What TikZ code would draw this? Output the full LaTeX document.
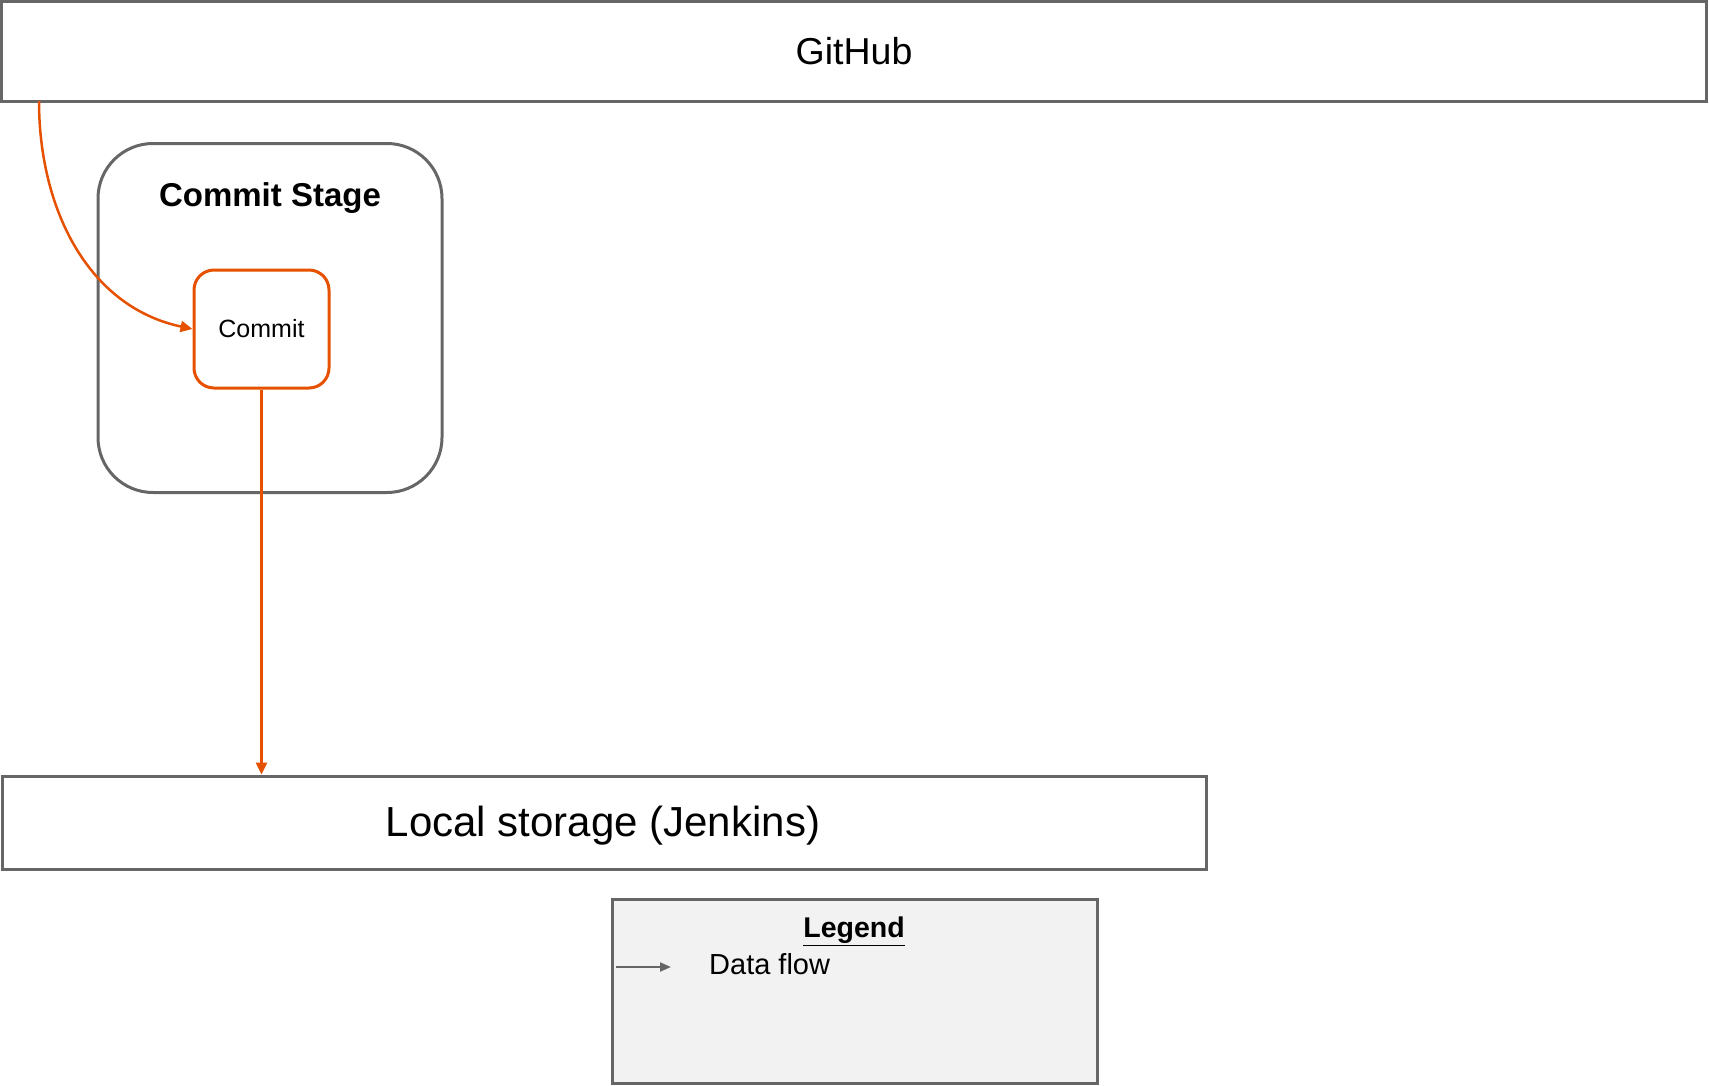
\documentclass[tikz,border=0pt]{standalone}
\usepackage{fontspec}
\setmainfont{Liberation Sans}
\usetikzlibrary{calc,positioning,arrows.meta}
\definecolor{boxgray}{HTML}{666666}
\definecolor{flowred}{HTML}{E65100}
\definecolor{legendfill}{HTML}{F2F2F2}

\begin{document}
\begin{tikzpicture}[x=1pt,y=-1pt,
    plainbox/.style={draw=boxgray,line width=3pt,inner sep=0pt},
    flow/.style={draw=flowred,line width=2.5pt,-{Triangle[length=12pt,width=11pt]}}]
    \useasboundingbox (0,0) rectangle (1709,1085);
    % upper and lower stores
    \node (github) [plainbox,minimum width=1705pt,minimum height=100pt] at (854,51) {\fontsize{37.5}{41}\selectfont GitHub};
    \node (lstore) [plainbox,minimum width=1204pt,minimum height=93pt] at (604,822.5) {};
    \node (lstoretxt) at (603,826) {\fontsize{42}{46}\selectfont Local storage (Jenkins)};
    % commit stage
    \node (stage) [plainbox,rounded corners=55pt,minimum width=344pt,minimum height=349pt] at (270,318) {};
    \node (stagetitle) [below=40pt of stage.north,inner sep=0pt] {\fontsize{33}{37}\selectfont\bfseries Commit Stage};
    \node (commit) [draw=flowred,line width=3pt,rounded corners=20pt,minimum width=135pt,minimum height=118pt] at (261.5,329) {\fontsize{25}{28}\selectfont Commit};
    \coordinate (ghout) at (39,101);
    \draw[flow] (ghout) to[out=-90,in=168] (commit.west);
    \draw[flow] (commit.south) -- (commit.south |- lstore.north);
    % legend
    \node (legend) [plainbox,fill=legendfill,minimum width=485pt,minimum height=184pt] at (854.5,991) {};
    \node (legendtitle) at (854,931) {\fontsize{28.5}{32}\selectfont\bfseries\underline{Legend}};
    \coordinate (keystart) at (616,967);
    \coordinate (keyend) at (671,967);
    \draw[boxgray,line width=2pt,-{Triangle[length=11pt,width=9pt]}] (keystart) -- (keyend);
    \node (keytxt) [anchor=west,inner sep=0pt] at (709,964) {\fontsize{29}{33}\selectfont Data flow};
\end{tikzpicture}
\end{document}
